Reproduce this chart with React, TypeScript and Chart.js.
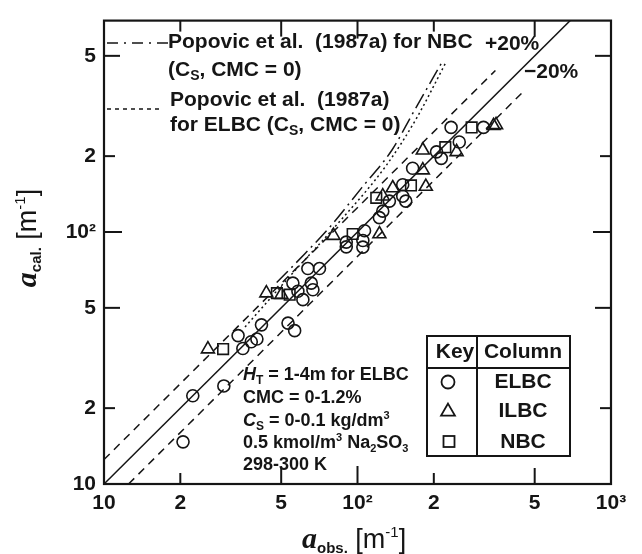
import React, { useEffect, useRef } from 'react';
import { Chart, registerables } from 'chart.js';

Chart.register(...registerables);

// ---------- axis ticks ----------
const xTicks = [10, 20, 50, 100, 200, 500, 1000];
const xTickLabels = ['10', '2', '5', '10²', '2', '5', '10³'];
const yTicks = [10, 20, 50, 100, 200, 500];
const yTickLabels = ['10', '2', '5', '10²', '2', '5'];
const xMin = 10;
const xMax = 1000;
const yMin = 10;
const yMax = 690;

// ---------- measured data (a_obs, a_cal) ----------
const elbcObs = [20.5, 22.4, 29.7, 33.8, 35.3, 38.1, 40.1, 41.8, 53.2, 56.5, 55.6, 58.2, 60.9, 63.7, 65.7, 66.7, 70.8, 90.3, 90.3, 106.6, 105, 105, 122, 125.8, 133.6, 150.8, 150.8, 155, 165, 205, 214, 234, 252, 314];
const elbcCal = [14.7, 22.4, 24.5, 38.8, 34.5, 36.7, 37.6, 42.8, 43.5, 40.6, 62.7, 58.2, 53.9, 71.6, 62.7, 59, 71.6, 91.2, 87.3, 101.2, 92.5, 87.1, 114, 121, 132.6, 154, 138.7, 132.6, 179, 208, 196, 260, 227.5, 260];
const ilbcObs = [25.7, 43.7, 50.1, 80.4, 122, 125.8, 137.7, 181, 181, 186, 246, 344, 352];
const ilbcCal = [34.3, 57.2, 56.4, 96.7, 98.2, 138.7, 149.5, 211, 176, 151.5, 208, 264, 266];
const nbcObs = [29.5, 48.1, 54, 95.7, 118.6, 162.5, 222, 282];
const nbcCal = [34.3, 57.2, 56.4, 98.2, 136.6, 153, 217, 260];

// ---------- reference lines ----------
const parityX = [10, 1000];
const parityY = [10, 1000];
const plus20X = [10, 350];
const plus20Y = [12.5, 437.5];
const minus20X = [12.5, 450];
const minus20Y = [10, 360];
const popNbcX = [48, 62, 78, 104, 137, 165, 216];
const popNbcY = [63, 82, 105, 150, 212, 295, 474];
const popElbcX = [36, 55, 85, 130, 170, 224];
const popElbcY = [42, 68, 110, 184, 280, 474];

const INK = '#151515';
const SANS = '"Liberation Sans", Arial, Helvetica, sans-serif';
const B21 = `bold 21px ${SANS}`;
const B18 = `bold 18px ${SANS}`;
const S14 = `bold 14px ${SANS}`;
const S12 = `bold 12px ${SANS}`;
const S11 = `bold 11px ${SANS}`;
const I18 = `italic bold 18px ${SANS}`;

const pts = (xs: number[], ys: number[]) => xs.map((x, i) => ({ x, y: ys[i] }));

type Part = { t: string; f: string; dy?: number };
function rich(ctx: CanvasRenderingContext2D, x: number, y: number, parts: Part[]) {
  let cx = x;
  for (const p of parts) {
    ctx.font = p.f;
    ctx.fillText(p.t, cx, y + (p.dy || 0));
    cx += ctx.measureText(p.t).width;
  }
  return cx;
}
function richWidth(ctx: CanvasRenderingContext2D, parts: Part[]) {
  let w = 0;
  for (const p of parts) {
    ctx.font = p.f;
    w += ctx.measureText(p.t).width;
  }
  return w;
}
function seg(ctx: CanvasRenderingContext2D, x1: number, y1: number, x2: number, y2: number) {
  ctx.beginPath();
  ctx.moveTo(x1, y1);
  ctx.lineTo(x2, y2);
  ctx.stroke();
}
function tickLen(v: number) {
  const m = v / Math.pow(10, Math.floor(Math.log10(v) + 1e-9));
  if (m < 1.5) return 18;
  if (m < 3) return 11;
  return 16;
}
function drawCircle(ctx: CanvasRenderingContext2D, x: number, y: number, r: number) {
  ctx.beginPath();
  ctx.arc(x, y, r, 0, Math.PI * 2);
  ctx.stroke();
}
function drawTri(ctx: CanvasRenderingContext2D, x: number, y: number, r: number) {
  ctx.beginPath();
  for (let k = 0; k < 3; k++) {
    const a = -Math.PI / 2 + (k * 2 * Math.PI) / 3;
    const px = x + Math.cos(a) * r;
    const py = y + Math.sin(a) * r + r * 0.2;
    if (k === 0) ctx.moveTo(px, py);
    else ctx.lineTo(px, py);
  }
  ctx.closePath();
  ctx.stroke();
}

const decor = {
  id: 'decor',
  afterDraw(chart: any) {
    const { ctx, chartArea: a, scales } = chart;
    const xs = scales.x;
    const ys = scales.y;
    ctx.save();
    ctx.strokeStyle = INK;
    ctx.fillStyle = INK;
    ctx.setLineDash([]);

    // ticks (inward, all four sides)
    ctx.lineWidth = 2;
    xTicks.forEach((v) => {
      const px = xs.getPixelForValue(v);
      const l = tickLen(v);
      seg(ctx, px, a.bottom, px, a.bottom - l);
      seg(ctx, px, a.top, px, a.top + l);
    });
    yTicks.forEach((v) => {
      const py = ys.getPixelForValue(v);
      const l = tickLen(v);
      seg(ctx, a.left, py, a.left + l, py);
      seg(ctx, a.right, py, a.right - l, py);
    });
    // frame
    ctx.lineWidth = 2.2;
    ctx.strokeRect(a.left, a.top, a.right - a.left, a.bottom - a.top);

    // legend samples
    ctx.lineWidth = 1.5;
    ctx.setLineDash([11, 6, 2, 6]);
    seg(ctx, 107, 43, 168, 43);
    ctx.setLineDash([4, 4]);
    seg(ctx, 107, 109, 162, 109);
    ctx.setLineDash([]);

    ctx.textBaseline = 'alphabetic';
    ctx.textAlign = 'left';
    rich(ctx, 168, 48, [{ t: 'Popovic et al.  (1987a) for NBC', f: B21 }]);
    rich(ctx, 168, 76, [
      { t: '(C', f: B21 },
      { t: 'S', f: S14, dy: 4 },
      { t: ', CMC = 0)', f: B21 },
    ]);
    rich(ctx, 170, 106, [{ t: 'Popovic et al.  (1987a)', f: B21 }]);
    rich(ctx, 170, 131, [
      { t: 'for ELBC (C', f: B21 },
      { t: 'S', f: S14, dy: 4 },
      { t: ', CMC = 0)', f: B21 },
    ]);
    rich(ctx, 485, 50, [{ t: '+20%', f: B21 }]);
    rich(ctx, 524, 78, [{ t: '\u221220%', f: B21 }]);

    // condition text
    rich(ctx, 243, 380, [
      { t: 'H', f: I18 },
      { t: 'T', f: S12, dy: 4 },
      { t: ' = 1-4m for ELBC', f: B18 },
    ]);
    rich(ctx, 243, 403, [{ t: 'CMC = 0-1.2%', f: B18 }]);
    rich(ctx, 243, 426, [
      { t: 'C', f: I18 },
      { t: 'S', f: S12, dy: 4 },
      { t: ' = 0-0.1 kg/dm', f: B18 },
      { t: '3', f: S11, dy: -7 },
    ]);
    rich(ctx, 243, 448, [
      { t: '0.5 kmol/m', f: B18 },
      { t: '3', f: S11, dy: -7 },
      { t: ' Na', f: B18 },
      { t: '2', f: S11, dy: 4 },
      { t: 'SO', f: B18 },
      { t: '3', f: S11, dy: 4 },
    ]);
    rich(ctx, 243, 470, [{ t: '298-300 K', f: B18 }]);

    // key table
    ctx.lineWidth = 2;
    ctx.strokeRect(427, 336, 143, 120);
    seg(ctx, 477, 336, 477, 456);
    seg(ctx, 427, 368, 570, 368);
    ctx.textAlign = 'center';
    ctx.textBaseline = 'middle';
    ctx.font = B21;
    ctx.fillText('Key', 455, 352);
    ctx.fillText('Column', 523, 352);
    ctx.fillText('ELBC', 523, 382);
    ctx.fillText('ILBC', 523, 411);
    ctx.fillText('NBC', 523, 442);
    ctx.lineWidth = 1.8;
    drawCircle(ctx, 448, 382, 6.5);
    drawTri(ctx, 448, 410, 8);
    ctx.strokeRect(443.5, 436, 11, 11);

    // axis titles
    ctx.textAlign = 'left';
    ctx.textBaseline = 'alphabetic';
    const AF = 'italic bold 30px "Liberation Serif", "Times New Roman", serif';
    const BR = `27px ${SANS}`;
    const SUP = `15px ${SANS}`;
    const xParts: Part[] = [
      { t: 'a', f: AF },
      { t: 'obs.', f: `bold 15px ${SANS}`, dy: 5 },
      { t: ' [m', f: BR },
      { t: '-1', f: SUP, dy: -11 },
      { t: ']', f: BR },
    ];
    rich(ctx, 302, 548, xParts);
    const yParts: Part[] = [
      { t: 'a', f: AF },
      { t: 'cal.', f: `bold 15px ${SANS}`, dy: 5 },
      { t: ' [m', f: BR },
      { t: '-1', f: SUP, dy: -11 },
      { t: ']', f: BR },
    ];
    const yw = richWidth(ctx, yParts);
    ctx.translate(36, 238);
    ctx.rotate(-Math.PI / 2);
    rich(ctx, -yw / 2, 0, yParts);
    ctx.restore();
  },
};

export default function App() {
  const ref = useRef<HTMLCanvasElement | null>(null);
  useEffect(() => {
    if (!ref.current) return;
    const lineBase = { showLine: true, pointRadius: 0, borderColor: INK, fill: false, order: 2 };
    const chart = new Chart(ref.current, {
      type: 'scatter',
      data: {
        datasets: [
          { ...lineBase, label: 'parity', data: pts(parityX, parityY), borderWidth: 1.5 },
          { ...lineBase, label: '+20%', data: pts(plus20X, plus20Y), borderWidth: 1.5, borderDash: [8, 6] },
          { ...lineBase, label: '-20%', data: pts(minus20X, minus20Y), borderWidth: 1.5, borderDash: [8, 6] },
          {
            ...lineBase,
            label: 'Popovic NBC',
            data: pts(popNbcX, popNbcY),
            borderWidth: 1.5,
            borderDash: [16, 5, 2, 5],
            cubicInterpolationMode: 'monotone',
          },
          {
            ...lineBase,
            label: 'Popovic ELBC',
            data: pts(popElbcX, popElbcY),
            borderWidth: 1.5,
            borderDash: [2, 3],
            cubicInterpolationMode: 'monotone',
          },
          {
            label: 'ELBC',
            data: pts(elbcObs, elbcCal),
            pointStyle: 'circle',
            pointRadius: 6,
            borderColor: INK,
            backgroundColor: 'rgba(0,0,0,0)',
            pointBorderWidth: 1.6,
            order: 1,
          },
          {
            label: 'ILBC',
            data: pts(ilbcObs, ilbcCal),
            pointStyle: 'triangle',
            pointRadius: 7.5,
            borderColor: INK,
            backgroundColor: 'rgba(0,0,0,0)',
            pointBorderWidth: 1.6,
            order: 1,
          },
          {
            label: 'NBC',
            data: pts(nbcObs, nbcCal),
            pointStyle: 'rect',
            pointRadius: 7.5,
            borderColor: INK,
            backgroundColor: 'rgba(0,0,0,0)',
            pointBorderWidth: 1.6,
            order: 1,
          },
        ],
      },
      options: {
        animation: false,
        responsive: false,
        maintainAspectRatio: false,
        layout: { padding: { top: 13, right: 31, left: 0, bottom: 0 } },
        plugins: { legend: { display: false }, tooltip: { enabled: false } },
        scales: {
          x: {
            type: 'logarithmic',
            position: 'bottom',
            min: xMin,
            max: xMax,
            grid: { display: false, drawTicks: false },
            border: { display: false },
            afterBuildTicks: (s: any) => {
              s.ticks = xTicks.map((v) => ({ value: v }));
            },
            afterFit: (s: any) => {
              s.height = 70;
            },
            ticks: {
              autoSkip: false,
              maxRotation: 0,
              padding: 7,
              color: INK,
              font: { family: SANS, size: 21, weight: 'bold' },
              callback: (_v: any, i: number) => xTickLabels[i],
            },
          },
          y: {
            type: 'logarithmic',
            position: 'left',
            min: yMin,
            max: yMax,
            grid: { display: false, drawTicks: false },
            border: { display: false },
            afterBuildTicks: (s: any) => {
              s.ticks = yTicks.map((v) => ({ value: v }));
            },
            afterFit: (s: any) => {
              s.width = 104;
            },
            ticks: {
              autoSkip: false,
              padding: 8,
              color: INK,
              font: { family: SANS, size: 21, weight: 'bold' },
              callback: (_v: any, i: number) => yTickLabels[i],
            },
          },
        },
      } as any,
      plugins: [decor],
    });
    return () => chart.destroy();
  }, []);
  return (
    <div style={{ position: 'absolute', left: 0, top: 0, width: 642, height: 554, background: '#fff' }}>
      <canvas ref={ref} width={642} height={554} style={{ display: 'block' }} />
    </div>
  );
}
